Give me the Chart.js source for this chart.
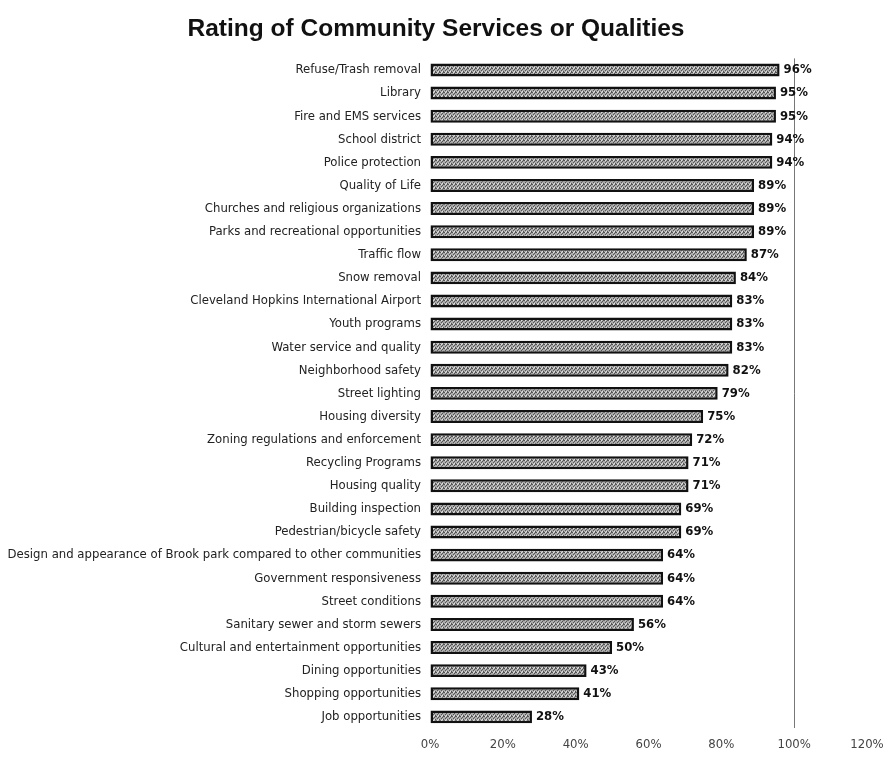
<!DOCTYPE html>
<html lang="en">
<head>
<meta charset="UTF-8">
<title>Rating of Community Services or Qualities</title>
<style>
    html, body { margin: 0; padding: 0; background: #fff; }
    .chart-container { position: relative; width: 895px; height: 768px; }
</style>
</head>
<body>
<script src="https://cdn.jsdelivr.net/npm/chart.js@4.4.0/dist/chart.umd.min.js"></script>

<div class="chart-container">
    <canvas id="ratings"></canvas>
</div>
<script>
    const services = [
        'Refuse/Trash removal',
        'Library',
        'Fire and EMS services',
        'School district',
        'Police protection',
        'Quality of Life',
        'Churches and religious organizations',
        'Parks and recreational opportunities',
        'Traffic flow',
        'Snow removal',
        'Cleveland Hopkins International Airport',
        'Youth programs',
        'Water service and quality',
        'Neighborhood safety',
        'Street lighting',
        'Housing diversity',
        'Zoning regulations and enforcement',
        'Recycling Programs',
        'Housing quality',
        'Building inspection',
        'Pedestrian/bicycle safety',
        'Design and appearance of Brook park compared to other communities',
        'Government responsiveness',
        'Street conditions',
        'Sanitary sewer and storm sewers',
        'Cultural and entertainment opportunities',
        'Dining opportunities',
        'Shopping opportunities',
        'Job opportunities'
    ];
    const ratings = [96, 95, 95, 94, 94, 89, 89, 89, 87, 84, 83, 83, 83, 82, 79, 75, 72, 71, 71, 69, 69, 64, 64, 64, 56, 50, 43, 41, 28];
    const xTicks = [0, 20, 40, 60, 80, 100, 120];

    const labelFont = '"DejaVu Sans Condensed", "Liberation Sans Narrow", "Liberation Sans", Arial, sans-serif';

    const ctx = document.getElementById('ratings').getContext('2d');

    // grey halftone fill like the printed bars
    function halftone() {
        const c = document.createElement('canvas');
        c.width = 4;
        c.height = 4;
        const g = c.getContext('2d');
        g.fillStyle = '#ababab';
        g.fillRect(0, 0, 4, 4);
        g.fillStyle = '#555';
        g.fillRect(0, 0, 1, 1);
        g.fillRect(2, 1, 1, 1);
        g.fillRect(1, 2, 1, 1);
        g.fillRect(3, 3, 1, 1);
        g.fillRect(3, 0, 1, 1);
        g.fillStyle = '#e0e0e0';
        g.fillRect(1, 0, 1, 1);
        g.fillRect(2, 3, 1, 1);
        return ctx.createPattern(c, 'repeat');
    }

    // percentage printed at the end of each bar
    const valueLabels = {
        id: 'valueLabels',
        afterDatasetsDraw(chart) {
            const c = chart.ctx;
            const meta = chart.getDatasetMeta(0);
            c.save();
            c.font = 'bold 13px ' + labelFont;
            c.fillStyle = '#111';
            c.textBaseline = 'middle';
            meta.data.forEach((bar, i) => {
                c.fillText(ratings[i] + '%', bar.x + 4, bar.y);
            });
            c.restore();
        }
    };

    const ratingChart = new Chart(ctx, {
        type: 'bar',
        data: {
            labels: services,
            datasets: [{
                data: ratings,
                backgroundColor: halftone(),
                borderColor: '#111',
                borderWidth: 2.5,
                borderSkipped: false,
                barPercentage: 0.56,
                categoryPercentage: 1
            }]
        },
        plugins: [valueLabels],
        options: {
            indexAxis: 'y',
            responsive: true,
            maintainAspectRatio: false,
            animation: false,
            layout: {
                padding: {left: 5, right: 28, top: 0, bottom: 8}
            },
            plugins: {
                legend: {display: false},
                tooltip: {enabled: false},
                title: {
                    display: true,
                    text: 'Rating of Community Services or Qualities',
                    color: '#111',
                    font: {family: '"Liberation Sans", Arial, sans-serif', size: 24.5, weight: 'bold'},
                    padding: {top: 15, bottom: 14}
                }
            },
            scales: {
                x: {
                    min: 0,
                    max: 120,
                    afterBuildTicks: (scale) => {
                        scale.ticks = xTicks.map(v => ({value: v}));
                    },
                    border: {display: false},
                    grid: {
                        drawTicks: false,
                        color: (c) => (c.tick && c.tick.value === 100) ? '#777' : 'rgba(0,0,0,0)'
                    },
                    ticks: {
                        padding: 8,
                        color: '#444',
                        font: {family: labelFont, size: 13},
                        callback: (v) => v + '%'
                    }
                },
                y: {
                    afterFit: (scale) => {
                        scale.width = 425;
                    },
                    border: {display: false},
                    grid: {display: false, drawTicks: false},
                    ticks: {
                        padding: 9,
                        color: '#222',
                        autoSkip: false,
                        font: {family: labelFont, size: 13}
                    }
                }
            }
        }
    });
</script>
</body>
</html>
